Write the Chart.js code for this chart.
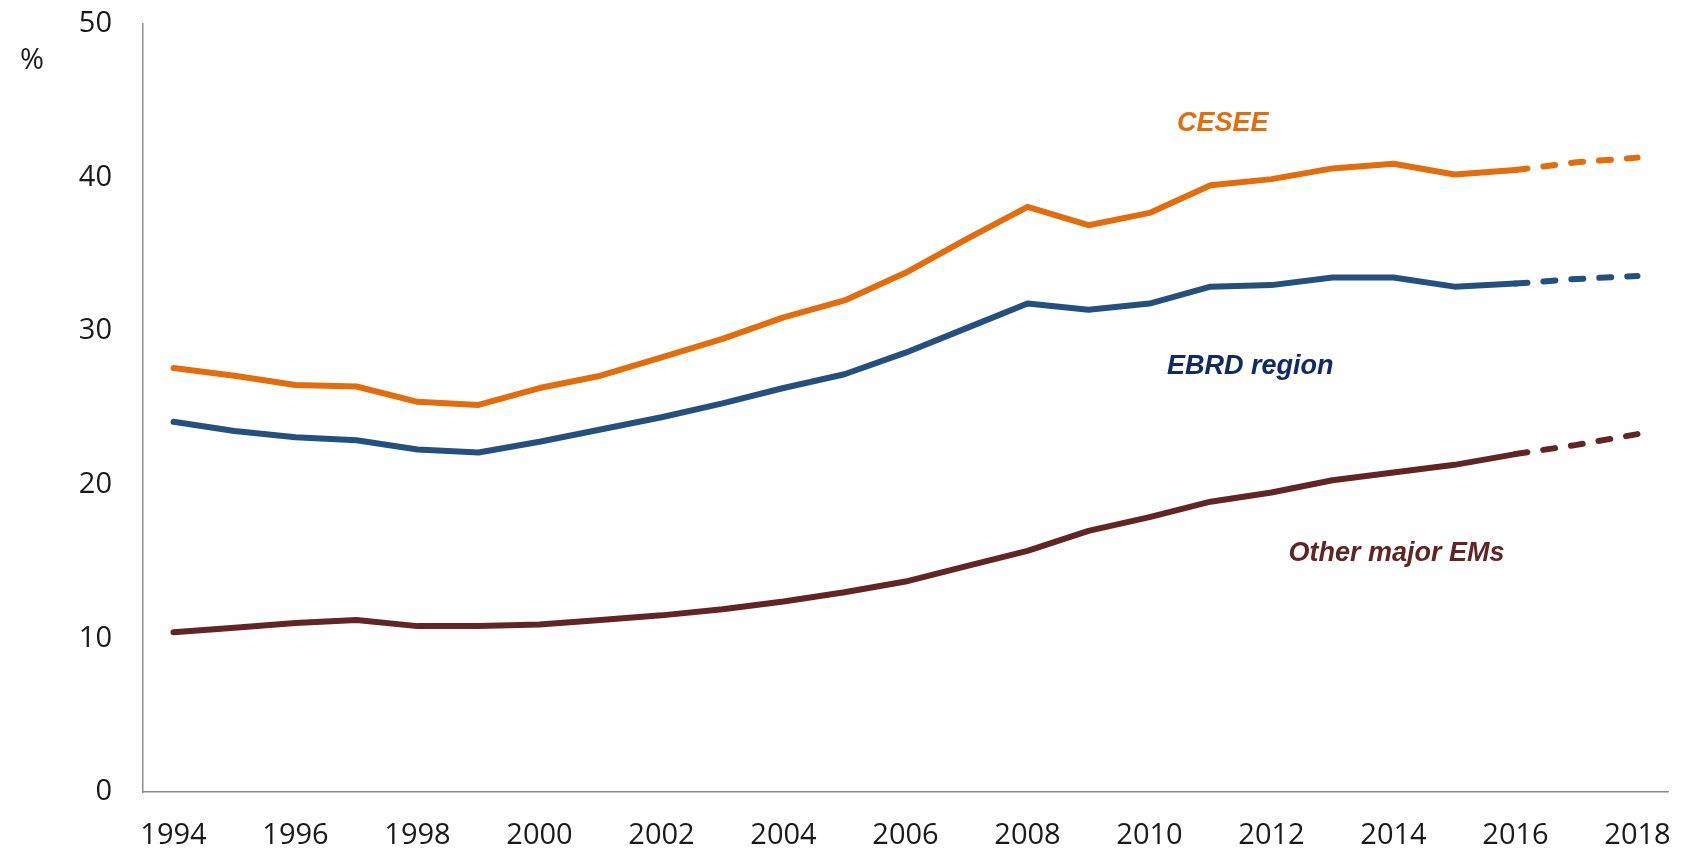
<!DOCTYPE html>
<html>
<head>
<meta charset="utf-8">
<script src="https://cdn.jsdelivr.net/npm/chart.js@4"></script>
<style>
  html, body { margin: 0; padding: 0; background: #fff; }
  #wrap { width: 1682px; height: 851px; }
</style>
</head>
<body>
<div id="wrap"><canvas id="shareChart"></canvas></div>
<script>
var years = ['1994', '1995', '1996', '1997', '1998', '1999', '2000', '2001', '2002', '2003', '2004', '2005', '2006',
  '2007', '2008', '2009', '2010', '2011', '2012', '2013', '2014', '2015', '2016', '2017', '2018'];
var cesee = [27.6, 27.1, 26.5, 26.4, 25.4, 25.2, 26.3, 27.1, 28.3, 29.5, 30.9, 32.0, 33.8,
  36.0, 38.1, 36.9, 37.7, 39.5, 39.9, 40.6, 40.9, 40.2, 40.5, 41.0, 41.3];
var ebrd = [24.1, 23.5, 23.1, 22.9, 22.3, 22.1, 22.8, 23.6, 24.4, 25.3, 26.3, 27.2, 28.6,
  30.2, 31.8, 31.4, 31.8, 32.9, 33.0, 33.5, 33.5, 32.9, 33.1, 33.4, 33.6];
var otherEMs = [10.4, 10.7, 11.0, 11.2, 10.8, 10.8, 10.9, 11.2, 11.5, 11.9, 12.4, 13.0, 13.7,
  14.7, 15.7, 17.0, 17.9, 18.9, 19.5, 20.3, 20.8, 21.3, 22.0, 22.6, 23.3];
var forecastFrom = 22; // index of 2016, dashed afterwards

// series labels placed in data units (category index, value)
var seriesLabels = [
  { text: 'CESEE', x: 17.2, y: 43.5, color: '#E46C0A' },
  { text: 'EBRD region', x: 17.65, y: 27.7, color: '#0F2A66' },
  { text: 'Other major EMs', x: 20.05, y: 15.5, color: '#632523' }
];

var dashed = function (ctx) {
  return ctx.p0DataIndex >= forecastFrom ? [12, 16] : undefined;
};

var textPlugin = {
  id: 'textPlugin',
  afterDraw: function (chart) {
    var c = chart.ctx, xs = chart.scales.x, ys = chart.scales.y;
    c.save();
    c.textAlign = 'center';
    c.textBaseline = 'middle';
    c.font = 'italic bold 27px "Liberation Sans", Arial, sans-serif';
    seriesLabels.forEach(function (l) {
      c.fillStyle = l.color;
      c.fillText(l.text, xs.getPixelForValue(l.x), ys.getPixelForValue(l.y));
    });
    c.font = '29px "Open Sans", sans-serif';
    c.fillStyle = '#1a1a1a';
    c.fillText('%', 32, ys.getPixelForValue(47.6));
    c.restore();
  }
};

var ctx = document.getElementById('shareChart').getContext('2d');
var shareChart = new Chart(ctx, {
  type: 'line',
  data: {
    labels: years,
    datasets: [{
      label: 'CESEE',
      data: cesee,
      borderColor: '#E46C0A',
      borderWidth: 6,
      segment: { borderDash: dashed }
    }, {
      label: 'EBRD region',
      data: ebrd,
      borderColor: '#24507F',
      borderWidth: 6,
      segment: { borderDash: dashed }
    }, {
      label: 'Other major EMs',
      data: otherEMs,
      borderColor: '#632523',
      borderWidth: 6,
      segment: { borderDash: dashed }
    }]
  },
  options: {
    responsive: true,
    maintainAspectRatio: false,
    animation: false,
    layout: { padding: { top: 24, right: 14, left: 0, bottom: 0 } },
    elements: {
      point: { radius: 0 },
      line: { tension: 0, borderCapStyle: 'round', borderJoinStyle: 'round' }
    },
    plugins: {
      legend: { display: false },
      tooltip: { enabled: false }
    },
    scales: {
      x: {
        offset: true,
        grid: { display: false, drawTicks: false },
        border: { display: true, color: '#8c8c8c', width: 1.5 },
        ticks: {
          autoSkip: false,
          maxRotation: 0,
          padding: 26,
          color: '#1a1a1a',
          font: { family: '"Open Sans", sans-serif', size: 29 },
          callback: function (v, i) { return i % 2 === 0 ? years[i] : ''; }
        },
        afterFit: function (s) { s.height = 59; s.paddingLeft = 0; s.paddingRight = 0; }
      },
      y: {
        min: 0,
        max: 50,
        grid: { display: false, drawTicks: false },
        border: { display: true, color: '#8c8c8c', width: 1.5 },
        ticks: {
          stepSize: 10,
          padding: 31,
          color: '#1a1a1a',
          font: { family: '"Open Sans", sans-serif', size: 29 }
        },
        afterFit: function (s) { s.width = 143; s.paddingTop = 0; s.paddingBottom = 0; }
      }
    }
  },
  plugins: [textPlugin]
});
</script>
</body>
</html>
